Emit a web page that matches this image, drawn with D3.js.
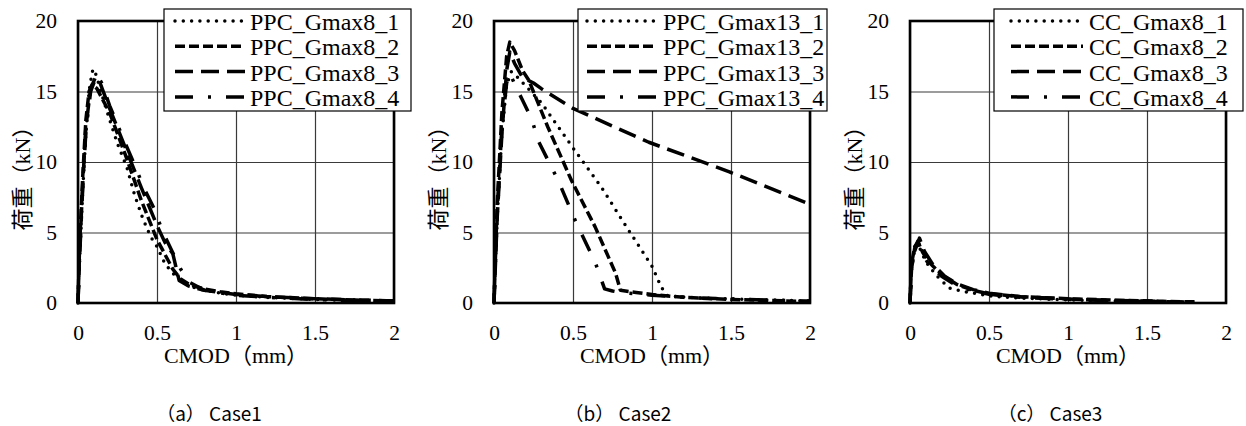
<!DOCTYPE html>
<html>
<head>
<meta charset="utf-8">
<script src="https://cdn.jsdelivr.net/npm/d3@7"></script>
<style>
  html, body { margin: 0; padding: 0; background: #fff; }
  svg { display: block; }
  text { fill: #000; }
  .serif { font-family: 'Liberation Serif', 'Times New Roman', 'Noto Sans CJK JP', serif; }
</style>
</head>
<body>
<svg id="chart" width="1246" height="426"></svg>
<script>
// ---------- data ----------
const xTicks = [0, 0.5, 1, 1.5, 2];
const yTicks = [0, 5, 10, 15, 20];
const xTitle = "CMOD（mm）";
const yTitle = "荷重（kN）";
const captions = ["（a） Case1", "（b） Case2", "（c） Case3"];

const case1Names = ["PPC_Gmax8_1", "PPC_Gmax8_2", "PPC_Gmax8_3", "PPC_Gmax8_4"];
const case2Names = ["PPC_Gmax13_1", "PPC_Gmax13_2", "PPC_Gmax13_3", "PPC_Gmax13_4"];
const case3Names = ["CC_Gmax8_1", "CC_Gmax8_2", "CC_Gmax8_3", "CC_Gmax8_4"];

// Case1 series: [CMOD (mm), load (kN)]
const case1_1 = [[0,0],[0.01,3],[0.03,8],[0.05,12],[0.07,15],[0.09,16.4],[0.10,16.6],[0.12,16],[0.15,14.8],[0.2,13],[0.25,11.3],[0.31,9.6],[0.36,7.6],[0.41,6.0],[0.46,4.7],[0.5,4.0],[0.55,2.8],[0.6,2.1],[0.65,1.6],[0.7,1.2],[0.8,0.9],[0.9,0.7],[1.0,0.55],[1.2,0.4],[1.4,0.3],[1.6,0.22],[1.8,0.15],[2.0,0.1]];
const case1_2 = [[0,0],[0.01,4],[0.03,9],[0.05,13],[0.07,15],[0.09,15.5],[0.12,15.2],[0.2,13.5],[0.3,10.5],[0.4,7.3],[0.5,4.5],[0.6,2.4],[0.65,1.7],[0.7,1.35],[0.75,1.15],[0.8,1.0],[0.9,0.8],[1.0,0.65],[1.2,0.45],[1.5,0.3],[1.8,0.2],[2.0,0.15]];
const case1_3 = [[0,0],[0.01,3.5],[0.03,8.5],[0.05,12.5],[0.08,15.2],[0.11,16.0],[0.14,15.6],[0.2,13.8],[0.3,11.0],[0.4,8.2],[0.5,5.5],[0.55,4.3],[0.6,3.5],[0.64,1.6],[0.7,1.2],[0.8,0.9],[1.0,0.6],[1.2,0.45],[1.5,0.3],[1.8,0.2],[2.0,0.15]];
const case1_4 = [[0,0],[0.01,3.2],[0.03,8.2],[0.05,12.2],[0.08,15],[0.12,16.2],[0.15,15.6],[0.2,14],[0.3,11.3],[0.35,10],[0.42,8.1],[0.49,6.5],[0.53,5.2],[0.59,3.8],[0.65,2.4],[0.7,1.5],[0.8,0.9],[1.0,0.55],[1.2,0.4],[1.5,0.25],[1.8,0.15],[2.0,0.1]];

// Case2 series
const case2_1 = [[0,0],[0.02,6],[0.05,12],[0.08,15.5],[0.11,16.4],[0.15,16],[0.2,15.4],[0.3,14.2],[0.5,11],[0.68,8.2],[0.85,5.2],[1.0,2.6],[1.06,1.1],[1.1,0.5],[1.3,0.35],[1.6,0.25],[2.0,0.15]];
const case2_2 = [[0,0],[0.02,7],[0.05,13.5],[0.08,17.5],[0.1,18.5],[0.13,17.9],[0.18,16.5],[0.22,15.8],[0.34,12.5],[0.49,8.7],[0.64,5.4],[0.77,2.1],[0.8,0.9],[0.9,0.75],[1.0,0.6],[1.2,0.4],[1.5,0.25],[2.0,0.1]];
const case2_3 = [[0,0],[0.02,6],[0.05,12],[0.08,16.5],[0.1,17.8],[0.13,17],[0.18,16],[0.25,15.6],[0.3,15.2],[0.5,13.8],[0.98,11.4],[1.49,9.3],[2.0,7.0]];
const case2_4 = [[0,0],[0.02,6.5],[0.05,12.5],[0.08,15.6],[0.1,16.3],[0.14,15.3],[0.18,14.4],[0.24,13],[0.28,11.5],[0.41,8.6],[0.52,5.7],[0.64,2.9],[0.7,1.0],[0.75,0.85],[0.8,0.75],[1.0,0.55],[1.3,0.35],[1.6,0.25],[2.0,0.12]];

// Case3 series
const case3_1 = [[0,0],[0.01,2.5],[0.03,3.8],[0.05,4.2],[0.08,3.4],[0.12,2.6],[0.18,1.8],[0.25,1.05],[0.35,0.8],[0.5,0.5],[0.7,0.35],[1.0,0.22],[1.3,0.14],[1.6,0.08],[1.8,0.05]];
const case3_2 = [[0,0],[0.01,2.8],[0.03,4.0],[0.05,4.3],[0.08,3.6],[0.12,2.9],[0.2,2.0],[0.3,1.3],[0.4,0.9],[0.5,0.65],[0.7,0.45],[1.0,0.3],[1.3,0.2],[1.6,0.12],[1.8,0.08]];
const case3_3 = [[0,0],[0.01,2.5],[0.03,3.7],[0.06,4.6],[0.09,3.7],[0.14,2.8],[0.22,1.9],[0.3,1.35],[0.4,0.95],[0.5,0.7],[0.7,0.45],[1.0,0.28],[1.3,0.18],[1.6,0.1],[1.8,0.06]];
const case3_4 = [[0,0],[0.01,2.6],[0.03,3.9],[0.05,4.4],[0.08,3.5],[0.12,2.7],[0.2,1.9],[0.3,1.2],[0.4,0.85],[0.5,0.62],[0.7,0.4],[1.0,0.26],[1.3,0.16],[1.6,0.1],[1.75,0.05]];

// ---------- layout & styles ----------
const panels = [
  { left: 78,  names: case1Names, series: [case1_1, case1_2, case1_3, case1_4], capX: 209, legLeft: 164, sampleX1: 175, sampleX2: 245, textX: 250 },
  { left: 494, names: case2Names, series: [case2_1, case2_2, case2_3, case2_4], capX: 618, legLeft: 578, sampleX1: 587, sampleX2: 657, textX: 663 },
  { left: 910, names: case3Names, series: [case3_1, case3_2, case3_3, case3_4], capX: 1050, legLeft: 994, sampleX1: 1011, sampleX2: 1083, textX: 1089 }
];
const plotW = 316, plotTop = 21, plotBottom = 303;
const styles = [
  { dash: "0,8.3", cap: "round", w: 3.5 },
  { dash: "10,4", cap: "butt", w: 3.5 },
  { dash: "18,8", cap: "butt", w: 3.5 },
  { dash: "18,15,3,15", cap: "butt", w: 3.5 }
];

const svg = d3.select("#chart");

panels.forEach((p, pi) => {
  const x = d3.scaleLinear().domain([0, 2]).range([p.left, p.left + plotW]);
  const y = d3.scaleLinear().domain([0, 20]).range([plotBottom, plotTop]);
  const g = svg.append("g");

  // grid + y ticks
  const yAx = g.append("g").attr("transform", `translate(${p.left},0)`)
    .call(d3.axisLeft(y).tickValues(yTicks).tickSize(-plotW).tickPadding(21).tickFormat(d3.format("")));
  yAx.attr("font-family", null).attr("font-size", null);
  yAx.select(".domain").remove();
  yAx.selectAll("line").attr("stroke", "#3a3a3a").attr("stroke-width", 1.2);
  yAx.selectAll("text").attr("class", "serif").style("font-size", "21.5px");

  const xAx = g.append("g").attr("transform", `translate(0,${plotBottom})`)
    .call(d3.axisBottom(x).tickValues(xTicks).tickSize(-(plotBottom - plotTop)).tickPadding(22).tickFormat(d3.format("")));
  xAx.attr("font-family", null).attr("font-size", null);
  xAx.select(".domain").remove();
  xAx.selectAll("line").attr("stroke", "#3a3a3a").attr("stroke-width", 1.2);
  xAx.selectAll("text").attr("class", "serif").style("font-size", "21.5px");

  // curves
  const line = d3.line().x(d => x(d[0])).y(d => y(d[1]));
  p.series.forEach((s, i) => {
    g.append("path").datum(s).attr("d", line)
      .attr("fill", "none").attr("stroke", "#000")
      .attr("stroke-width", styles[i].w)
      .attr("stroke-dasharray", styles[i].dash)
      .attr("stroke-linecap", styles[i].cap)
      .attr("stroke-linejoin", "round");
  });

  // frame
  g.append("rect").attr("x", p.left).attr("y", plotTop)
    .attr("width", plotW).attr("height", plotBottom - plotTop)
    .attr("fill", "none").attr("stroke", "#000").attr("stroke-width", 2.6);

  // legend
  const leg = g.append("g");
  leg.append("rect").attr("x", p.legLeft).attr("y", 9)
    .attr("width", p.left + 333 - p.legLeft).attr("height", 102)
    .attr("fill", "#fff").attr("stroke", "#000").attr("stroke-width", 1.2);
  p.names.forEach((n, i) => {
    const by = 30 + i * 25.3;
    leg.append("line").attr("x1", p.sampleX1).attr("x2", p.sampleX2)
      .attr("y1", by - 9).attr("y2", by - 9)
      .attr("stroke", "#000").attr("stroke-width", styles[i].w)
      .attr("stroke-dasharray", styles[i].dash).attr("stroke-linecap", styles[i].cap);
    leg.append("text").attr("x", p.textX).attr("y", by)
      .attr("class", "serif").style("font-size", "24px").text(n);
  });

  // axis titles
  g.append("text").attr("x", p.left + plotW / 2).attr("y", 363)
    .attr("text-anchor", "middle").attr("class", "serif").style("font-size", "22px").text(xTitle);
  g.append("text").attr("transform", `translate(${p.left - 48},173) rotate(-90)`)
    .attr("text-anchor", "middle").attr("class", "serif").style("font-size", "22px").text(yTitle);

  // caption
  g.append("text").attr("x", p.capX).attr("y", 421)
    .attr("text-anchor", "middle").style("font-family", "'Noto Sans CJK JP', sans-serif")
    .style("font-size", "19px").text(captions[pi]);
});
</script>
</body>
</html>
